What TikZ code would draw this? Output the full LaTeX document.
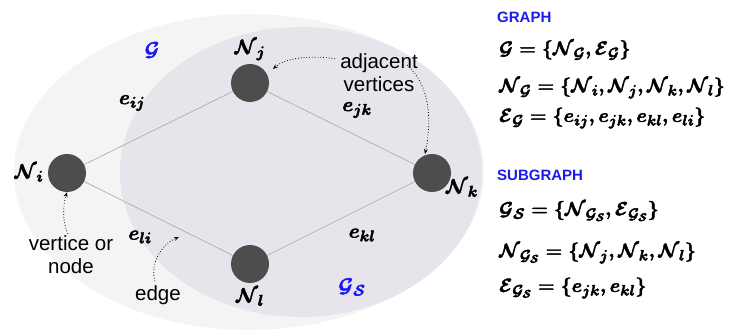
\RequirePackage{fix-cm}
\documentclass[tikz,border=0pt]{standalone}
\usepackage{amsmath}
\usepackage{fontspec}
\usepackage{bm}
\setmainfont{Liberation Sans}
\usetikzlibrary{arrows.meta}
\DeclareMathSizes{20}{20}{15.5}{11}
\DeclareMathSizes{19}{19}{15}{11}
\definecolor{outerc}{HTML}{F4F4F5}
\definecolor{innerc}{HTML}{E8E4EB}
\definecolor{vcol}{HTML}{4D4D4D}
\definecolor{lblue}{HTML}{1A1AF0}
\newcommand{\heavy}{\special{pdf:literal direct 2 Tr 0.45 w}}
\newcommand{\cN}{\mathcal{N}}
\newcommand{\cG}{\mathcal{G}}
\newcommand{\cE}{\mathcal{E}}
\newcommand{\cS}{\mathcal{S}}
\tikzset{
  vertex/.style={circle,fill=vcol,minimum size=38pt,inner sep=0pt},
  edgeline/.style={draw=black!35,line width=0.6pt},
  mlabel/.style={font=\fontsize{20}{24}\selectfont\boldmath,inner sep=1pt},
  eqn/.style={font=\fontsize{19}{23}\selectfont\boldmath,anchor=west,inner sep=0pt},
  note/.style={font=\fontsize{20.5}{23}\selectfont,align=center,inner sep=0pt},
  head/.style={font=\fontsize{15}{18}\selectfont\bfseries,text=lblue,anchor=west,inner sep=0pt},
  pointer/.style={dotted,line width=0.8pt,-{Stealth[length=5pt,width=4pt]}},
}
\begin{document}
\begin{tikzpicture}[x=1pt,y=-1pt]
\useasboundingbox (0,0) rectangle (739,331);
% ellipses
\fill[outerc] (249,172) ellipse [x radius=235,y radius=158];
\fill[innerc] (301,172) ellipse [x radius=181,y radius=145];
% vertices
\node[vertex] (vi) at (67,173) {};
\node[vertex] (vj) at (250,83) {};
\node[vertex] (vk) at (432,173) {};
\node[vertex] (vl) at (250,264) {};
\draw[edgeline] (vi) -- (vj);
\draw[edgeline] (vj) -- (vk);
\draw[edgeline] (vk) -- (vl);
\draw[edgeline] (vl) -- (vi);
% labels
\node[mlabel] (li) at (29,173) {\heavy$\bm{\cN_i}$};
\node[mlabel] (lj) at (250,50) {\heavy$\bm{\cN_j}$};
\node[mlabel] (lk) at (462,188) {\heavy$\bm{\cN_k}$};
\node[mlabel] (ll) at (250,297) {\heavy$\bm{\cN_l}$};
\node[mlabel] (eij) at (132,103) {\heavy$\bm{e_{ij}}$};
\node[mlabel] (ejk) at (357,110) {\heavy$\bm{e_{jk}}$};
\node[mlabel] (ekl) at (362,235) {\heavy$\bm{e_{kl}}$};
\node[mlabel] (eli) at (140,237) {\heavy$\bm{e_{li}}$};
\node[mlabel,text=lblue] (gG) at (152,50) {\heavy$\bm{\cG}$};
\node[mlabel,text=lblue] (gS) at (352,287) {\heavy$\bm{\cG_{\cS}}$};
% notes
\node[note] (adj) at (379,73) {adjacent\\vertices};
\node[note] (vert) at (71,255) {vertice or\\node};
\node[note] (edg) at (158,295) {edge};
\coordinate (edgept) at (179,237);
\draw[pointer] (adj.north west) ++(-5,5) .. controls (310,55) and (285,58) .. (273,69);
\draw[pointer] (407,65) .. controls (430,85) and (432,120) .. (425,154);
\draw[pointer] (vert.north) ++(-3,-2) .. controls (62,222) and (63,205) .. (vi.south);
\draw[pointer] (edg.north) ++(-3,-4) .. controls (150,265) and (160,245) .. (edgept);
% right panel
\node[head] (h1) at (497,17) {GRAPH};
\node[eqn] (q1) at (499,50) {\heavy$\bm{\cG=\{\cN_{\cG},\cE_{\cG}\}}$};
\node[eqn] (q2) at (499,88) {\heavy$\bm{\cN_{\cG}=\{\cN_i,\cN_j,\cN_k,\cN_l\}}$};
\node[eqn] (q3) at (499,118) {\heavy$\bm{\cE_{\cG}=\{e_{ij},e_{jk},e_{kl},e_{li}\}}$};
\node[head] (h2) at (497,175) {SUBGRAPH};
\node[eqn] (q4) at (499,211) {\heavy$\bm{\cG_{\cS}=\{\cN_{\cG_{\cS}},\cE_{\cG_{\cS}}\}}$};
\node[eqn] (q5) at (499,253) {\heavy$\bm{\cN_{\cG_{\cS}}=\{\cN_j,\cN_k,\cN_l\}}$};
\node[eqn] (q6) at (499,288) {\heavy$\bm{\cE_{\cG_{\cS}}=\{e_{jk},e_{kl}\}}$};
\end{tikzpicture}
\end{document}
